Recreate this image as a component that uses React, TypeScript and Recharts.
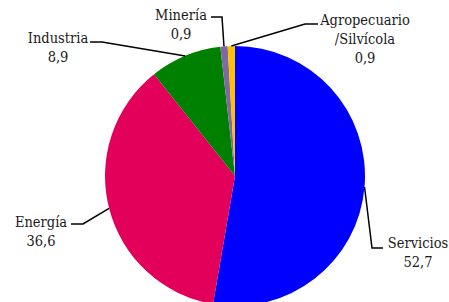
import { Cell, Pie, PieChart } from "recharts";

const sectors = ["Servicios", "Energía", "Industria", "Minería", "Agropecuario\n/Silvícola"];
const shares = [52.7, 36.6, 8.9, 0.9, 0.9];
const colors = ["#0000ff", "#e3005b", "#008000", "#8068a4", "#ffc000"];

// label placement (elbow + text block), one per slice
const labelLayout = [
  { elbow: [372, 248], end: [383, 248], text: [418, 243], anchor: "middle" },
  { elbow: [83, 224], end: [71, 224], text: [41, 222], anchor: "middle" },
  { elbow: [102, 42], end: [90, 42], text: [58, 38], anchor: "middle" },
  { elbow: [222, 17], end: [211, 17], text: [181, 15], anchor: "middle" },
  { elbow: [305, 24], end: [318, 24], text: [365, 20], anchor: "middle" },
];

const data = sectors.map((name, i) => ({ name, value: shares[i] }));

const RADIAN = Math.PI / 180;
const fmt = (v: number) => v.toFixed(1).replace(".", ",");
const FONT = "'DejaVu Serif Condensed', 'DejaVu Serif', serif";

function renderLabel(props: any) {
  const { cx, cy, midAngle, outerRadius, index, name, value } = props;
  const px = cx + outerRadius * Math.cos(-midAngle * RADIAN);
  const py = cy + outerRadius * Math.sin(-midAngle * RADIAN);
  const lay = labelLayout[index];
  const lines = [...String(name).split("\n"), fmt(value)];
  return (
    <g key={`lbl-${index}`}>
      <polyline
        points={`${px},${py} ${lay.elbow[0]},${lay.elbow[1]} ${lay.end[0]},${lay.end[1]}`}
        fill="none"
        stroke="#000"
        strokeWidth={1.5}
      />
      <text
        x={lay.text[0]}
        y={lay.text[1]}
        textAnchor={lay.anchor as any}
        style={{ fontFamily: FONT, fontSize: 14.5 }}
        fill="#1a1a1a"
        dominantBaseline="central"
      >
        {lines.map((l, j) => (
          <tspan key={j} x={lay.text[0]} dy={j === 0 ? 0 : 19}>
            {l}
          </tspan>
        ))}
      </text>
    </g>
  );
}

export default function App() {
  return (
    <div
      style={{
        position: "absolute",
        top: 0,
        left: 0,
        width: 449,
        height: 302,
        overflow: "hidden",
        background: "#fff",
      }}
    >
      <PieChart width={449} height={330} margin={{ top: 0, right: 0, bottom: 0, left: 0 }}>
        <Pie
          data={data}
          dataKey="value"
          nameKey="name"
          cx={235}
          cy={176}
          outerRadius={130}
          startAngle={90}
          endAngle={-270}
          stroke="none"
          label={renderLabel}
          labelLine={false}
          isAnimationActive={false}
        >
          {data.map((d, i) => (
            <Cell key={d.name} fill={colors[i]} />
          ))}
        </Pie>
      </PieChart>
    </div>
  );
}
